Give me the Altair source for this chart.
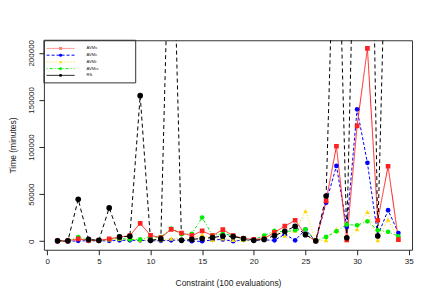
import altair as alt
import pandas as pd

# ---- data ----
x_vals = list(range(1, 35))
series_names = ["AVMs", "AVMc", "AVMr", "AVMrc", "RS"]

avms = [500, 500, 2500, 1000, 1000, 2500, 4500, 6000, 19000, 6400, 3800, 12700,
        8800, 6000, 11000, 6000, 12400, 6000, 3000, 2000, 2800, 9500, 16000, 22300,
        7000, 500, 42800, 100800, 1500, 122500, 204600, 22300, 79600, 1800]
avmc = [0, 0, 500, 500, 500, 500, 1000, 1000, 1000, 500, 500, 1000,
        1500, 0, 0, 1500, 2000, 0, 1500, 1000, 1500, 1000, 7500, 1000,
        12500, 0, 41000, 80000, 15200, 140000, 83200, 6000, 33000, 8800]
avmr = [500, 500, 2500, 1000, 1000, 2000, 2500, 2500, 1000, 1500, 1000, 2800,
        3000, 3000, 7000, 1500, 3000, 1500, 1500, 1000, 2000, 11700, 6000, 11200,
        32000, 500, 1000, 12700, 1000, 12700, 31100, 1000, 23000, 1800]
avmrc = [500, 500, 4500, 1000, 500, 2000, 3000, 2000, 2000, 4500, 4500, 13500,
         7500, 8000, 25200, 6400, 8000, 6000, 2000, 2000, 6000, 11000, 10000, 11700,
         12700, 500, 4600, 10600, 17700, 17000, 21200, 11700, 10000, 5300]
rs = [500, 500, 44600, 2000, 1000, 35400, 4600, 5300, 154500, 1000, 2500, 420000,
      1000, 2000, 3000, 4000, 5500, 5000, 3000, 1000, 2000, 6000, 10600, 15900,
      7000, 500, 48000, 430000, 3800, 480000, 680000, 5600, 430000, 450000]

x_ticks = [0, 5, 10, 15, 20, 25, 30, 35]
y_ticks = [0, 50000, 100000, 150000, 200000]

# ---- styles ----
colors = ["#ff2020", "#0000ff", "#ffd700", "#00ee00", "#000000"]
dashes = [[1, 0], [3, 2], [1, 2], [1, 2, 3, 2], [4, 3]]
legend_dashes = [[1, 0], [3, 2], [1, 2], [1, 2, 3, 2], [1, 0]]
legend_colors = ["#ff8080", "#0000ff", "#ffd700", "#00ee00", "#000000"]
shapes = ["square", "circle", "triangle-up", "circle", "circle"]

draw_order = ["AVMc", "AVMr", "AVMrc", "AVMs", "RS"]
series_vals = {"AVMs": avms, "AVMc": avmc, "AVMr": avmr, "AVMrc": avmrc, "RS": rs}

rows = []
for name in draw_order:
    for xi, v in zip(x_vals, series_vals[name]):
        rows.append({"x": xi, "value": v, "series": name})
df = pd.DataFrame(rows)

FONT = "Liberation Sans"
xscale = alt.Scale(domain=[-0.32, 35.32], nice=False, zero=False)
yscale = alt.Scale(domain=[-9000, 213300], nice=False, zero=False)
color = alt.Color("series:N", scale=alt.Scale(domain=series_names, range=colors), legend=None)
shape = alt.Shape("series:N", scale=alt.Scale(domain=series_names, range=shapes), legend=None)

x_axis = alt.Axis(values=x_ticks, grid=False, domain=False, tickSize=5, tickColor="#222",
                  labelFontSize=8, labelFont=FONT, labelColor="#222", labelPadding=3,
                  labelBaseline="top", labelFlush=False,
                  title="Constraint (100 evaluations)", titleFont=FONT, titleFontSize=8.5,
                  titleFontWeight="normal", titleColor="#222",
                  titleX=184.5, titleY=33, titleBaseline="middle", titleAlign="center")
y_axis = alt.Axis(values=y_ticks, format="d", grid=False, domain=False, tickSize=5,
                  tickColor="#222", labelFontSize=8, labelFont=FONT, labelColor="#222",
                  labelAngle=270, labelAlign="center", labelBaseline="middle",
                  labelPadding=7, labelFlush=False,
                  title="Time (minutes)", titleFont=FONT, titleFontSize=8.5,
                  titleFontWeight="normal", titleColor="#222", titleAngle=270,
                  titleX=-31, titleY=105, titleBaseline="middle", titleAlign="center")

base = alt.Chart(df)
lines = base.mark_line(strokeWidth=1, clip=True).encode(
    x=alt.X("x:Q", scale=xscale, axis=x_axis),
    y=alt.Y("value:Q", scale=yscale, axis=y_axis),
    color=color,
    strokeDash=alt.StrokeDash("series:N", scale=alt.Scale(domain=series_names, range=dashes), legend=None),
    detail="series:N",
)
points = base.mark_point(filled=True, opacity=1, clip=True).encode(
    x=alt.X("x:Q", scale=xscale),
    y=alt.Y("value:Q", scale=yscale),
    color=color,
    shape=shape,
    size=alt.condition("datum.series == 'RS'", alt.value(32), alt.value(22)),
)

main = alt.layer(lines, points)

# ---- manual legend (top-left box) ----
leg_df = pd.DataFrame({"series": series_names, "idx": list(range(len(series_names)))})
leg = alt.Chart(leg_df).transform_calculate(ly="8.2 + datum.idx * 6.75")
leg_y = alt.Y("ly:Q", scale=None, axis=None)
leg_lines = leg.mark_rule(strokeWidth=1).encode(
    x=alt.value(2.7), x2=alt.value(30.7), y=leg_y,
    color=alt.Color("series:N", scale=alt.Scale(domain=series_names, range=legend_colors), legend=None),
    strokeDash=alt.StrokeDash("series:N", scale=alt.Scale(domain=series_names, range=legend_dashes), legend=None),
)
leg_points = leg.mark_point(filled=True, opacity=1, size=9).encode(
    x=alt.value(16.7), y=leg_y, color=color, shape=shape,
)
leg_text = leg.mark_text(align="left", baseline="middle", fontSize=4.2, font=FONT, color="#222").encode(
    x=alt.value(42.7), y=leg_y, text="series:N",
)
leg_box = alt.Chart(pd.DataFrame({"a": [0]})).mark_rect(fill="white", fillOpacity=0, stroke="#333", strokeWidth=1).encode(
    x=alt.value(0), x2=alt.value(92), y=alt.value(0), y2=alt.value(42.7),
)
legend = alt.layer(leg_box, leg_lines, leg_points, leg_text)

chart = alt.layer(main, legend).resolve_scale(
    y="independent", strokeDash="independent", color="independent"
).properties(
    width=369, height=210,
    autosize=alt.AutoSizeParams(type="none"),
    padding={"left": 36, "top": 32, "right": 16, "bottom": 42},
    background="white",
).configure_view(stroke="#333", strokeWidth=1)

chart.save("out.html", embed_options={"renderer": "svg", "actions": False})
